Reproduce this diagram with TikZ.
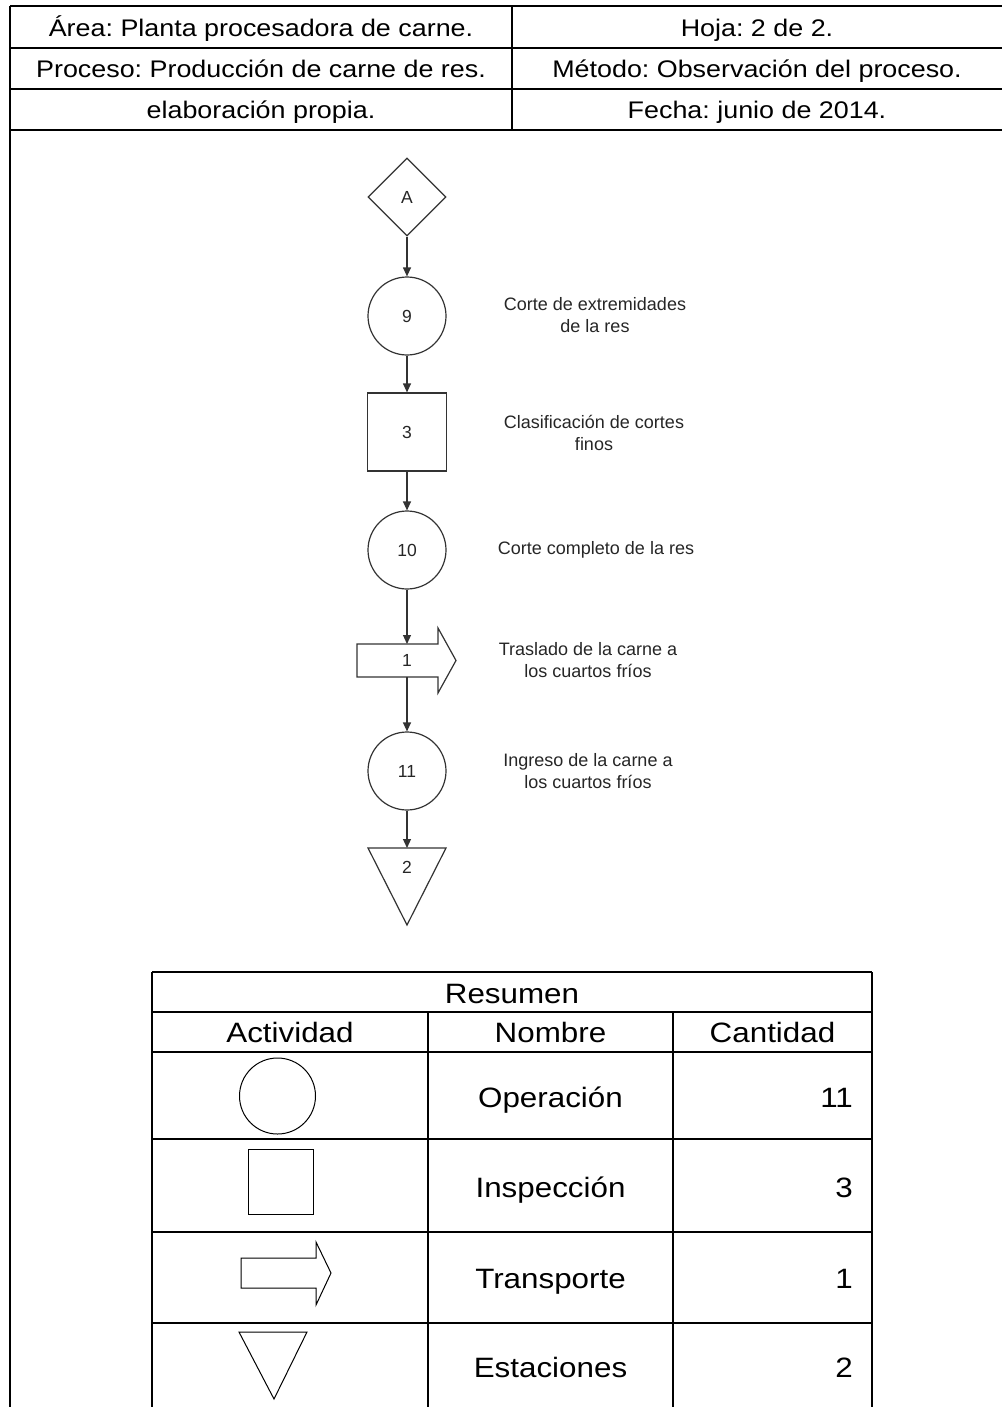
\documentclass[tikz,border=0pt]{standalone}
\usepackage{fontspec}
\setmainfont{Liberation Sans}
\newfontfamily\tabfont{Liberation Sans}[FakeStretch=1.12]
\usetikzlibrary{shapes.geometric,arrows.meta}
\frenchspacing
\begin{document}
\begin{tikzpicture}[x=1pt,y=-1pt,
  rule/.style={line width=2.8pt,black},
  headtxt/.style={anchor=base,inner sep=0pt,font=\tabfont\fontsize{24}{24}\selectfont},
  sumtxt/.style={anchor=base,inner sep=0pt,font=\tabfont\fontsize{28}{28}\selectfont},
  flowline/.style={draw=black!80,line width=1.2pt},
  shp/.style={flowline,fill=white,inner sep=0pt},
  opnode/.style={shp,circle,minimum size=78pt},
  insnode/.style={shp,rectangle,minimum width=79pt,minimum height=78pt},
  connnode/.style={shp,diamond,minimum width=78pt,minimum height=78pt},
  hidden/.style={inner sep=0pt,outer sep=0pt},
  num/.style={inner sep=0pt,text=black!85,font=\fontsize{17.5}{17.5}\selectfont},
  desc/.style={inner sep=0pt,align=center,text=black!85,font=\fontsize{18}{22}\selectfont},
  link/.style={flowline,-{Triangle[length=9pt,width=8pt]}},
  icon/.style={draw=black,line width=1pt}
]
\useasboundingbox (0,0) rectangle (1002,1407);

% page frame and heading table
\draw[rule] (10,6) -- (10,1407);
\foreach \yy in {6,48,89,130} \draw[rule] (10,\yy) -- (1002,\yy);
\draw[rule] (512,6) -- (512,130);
\node[headtxt] (area)  at (261,36.5)  {Área: Planta procesadora de carne.};
\node[headtxt] (hoja)  at (757,36.5)  {Hoja: 2 de 2.};
\node[headtxt] (proc)  at (261,77.5)  {Proceso: Producción de carne de res.};
\node[headtxt] (metod) at (757,77.5)  {Método: Observación del proceso.};
\node[headtxt] (elab)  at (261,118.5) {elaboración propia.};
\node[headtxt] (fecha) at (757,118.5) {Fecha: junio de 2014.};

% process chart
\node[connnode] (A)   at (407,197) {};
\node[num] at (A) {A};
\node[opnode] (c9)  at (407,316) {};
\node[num] at (c9) {9};
\node[insnode] (i3) at (407,432) {};
\node[num] at (i3) {3};
\node[opnode] (c10) at (407,550) {};
\node[num] at (c10) {10};
\node[hidden,minimum width=81pt,minimum height=33pt] (t1) at (397.5,660.5) {};
\draw[flowline,fill=white] (t1.north west) -- (t1.north east) -- ++(0,-16)
  -- ++(18,32.5) -- ++(-18,32.5) -- (t1.south east) -- (t1.south west) -- cycle;
\node[num] at (407,660) {1};
\node[opnode] (c11) at (407,771) {};
\node[num] at (c11) {11};
\node[hidden,minimum width=78pt,minimum height=77pt] (s2) at (407,886.5) {};
\draw[flowline,fill=white] (s2.north west) -- (s2.north east) -- (s2.south) -- cycle;
\node[num] at (407,867) {2};

\draw[link] (A.south) -- (c9.north);
\draw[link] (c9.south) -- (i3.north);
\draw[link] (i3.south) -- (c10.north);
\draw[link] (c10.south) -- (c10.south |- t1.north);
\draw[link] (c10.south |- t1.south) -- (c11.north);
\draw[link] (c11.south) -- (s2.north);

\node[desc] (d9)  at (595,315) {Corte de extremidades\\de la res};
\node[desc] (d3)  at (594,433) {Clasificación de cortes\\finos};
\node[desc] (d10) at (596,550) {Corte completo de la res};
\node[desc] (d1)  at (588,660) {Traslado de la carne a\\los cuartos fríos};
\node[desc] (d11) at (588,771) {Ingreso de la carne a\\los cuartos fríos};

% summary table
\draw[rule] (152,972) -- (872,972);
\foreach \yy in {1012,1052,1139,1232,1323} \draw[rule] (152,\yy) -- (872,\yy);
\draw[rule] (152,972) -- (152,1407);
\draw[rule] (872,972) -- (872,1407);
\draw[rule] (428,1012) -- (428,1407);
\draw[rule] (673,1012) -- (673,1407);

\node[sumtxt] (resumen) at (512,1003) {Resumen};
\node[sumtxt] (hact) at (290,1042) {Actividad};
\node[sumtxt] (hnom) at (550.5,1042) {Nombre};
\node[sumtxt] (hcan) at (772.5,1042) {Cantidad};

\node[sumtxt] (nop)  at (550.5,1107) {Operación};
\node[sumtxt] (nins) at (550.5,1197) {Inspección};
\node[sumtxt] (ntra) at (550.5,1288) {Transporte};
\node[sumtxt] (nest) at (550.5,1377) {Estaciones};
\node[sumtxt,anchor=base east] (qop)  at (853,1107) {11};
\node[sumtxt,anchor=base east] (qins) at (853,1197) {3};
\node[sumtxt,anchor=base east] (qtra) at (853,1288) {1};
\node[sumtxt,anchor=base east] (qest) at (853,1377) {2};

% activity symbols
\draw[icon] (277.5,1096) circle[radius=38];
\draw[icon] (248,1149) rectangle (313,1214);
\draw[icon] (241,1258) -- (316,1258) -- (316,1242) -- (331,1273) -- (316,1305)
  -- (316,1288) -- (241,1288) -- cycle;
\draw[icon] (239,1332) -- (307,1332) -- (274,1399) -- cycle;
\end{tikzpicture}
\end{document}
